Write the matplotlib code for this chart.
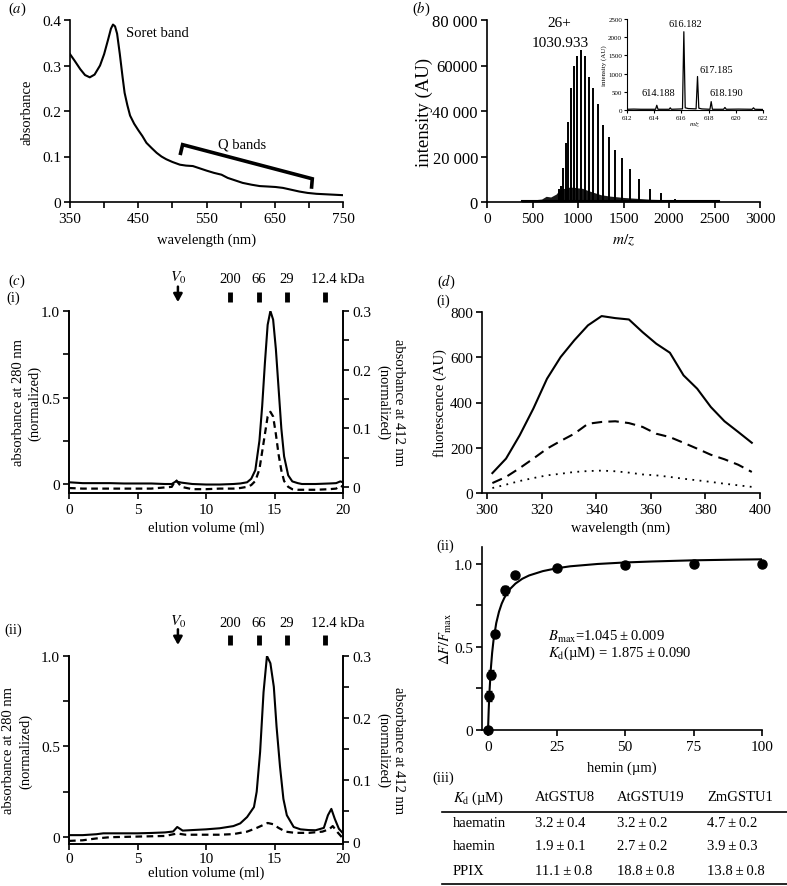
import matplotlib
matplotlib.use("Agg")
import matplotlib.pyplot as plt
from matplotlib.lines import Line2D
import matplotlib.transforms as mtransforms

# --- Data ---
# (a) UV-vis absorbance spectrum
abs_wl = [350, 357, 365, 372, 379, 386, 394, 400, 406, 410, 413, 416, 419, 423, 427,
          430, 434, 438, 444, 450, 456, 462, 470, 477, 484, 491, 500, 511, 520, 530,
          540, 550, 561, 572, 581, 591, 603, 616, 628, 640, 651, 662, 674, 686, 698,
          711, 724, 737, 750]
abs_val = [0.325, 0.310, 0.292, 0.279, 0.274, 0.280, 0.300, 0.325, 0.358, 0.381, 0.390,
           0.386, 0.370, 0.325, 0.275, 0.240, 0.213, 0.190, 0.172, 0.158, 0.145, 0.130,
           0.118, 0.108, 0.100, 0.094, 0.088, 0.082, 0.080, 0.079, 0.074, 0.069, 0.064,
           0.060, 0.053, 0.048, 0.042, 0.038, 0.035, 0.034, 0.033, 0.031, 0.027, 0.023,
           0.020, 0.018, 0.017, 0.016, 0.015]
qband_x = [512, 515, 705, 704]
qband_y = [0.107, 0.126, 0.051, 0.033]

# (b) ESI mass spectrum: charge-state peaks
ms_mz = [788.6, 812.5, 837.8, 864.8, 893.6, 924.4, 957.4, 992.8, 1030.9, 1072.1, 1116.8,
         1165.3, 1218.2, 1276.2, 1339.9, 1410.4, 1488.7, 1576.2, 1674.6, 1786.2, 1913.7,
         2060.8]
ms_int = [5500, 7000, 15000, 26000, 35000, 50000, 60000, 64000, 67000, 64000, 55000,
          50000, 43000, 34000, 28500, 23000, 19500, 14500, 10000, 5500, 4000, 1500]
# envelope of the dense minor-peak floor
floor_mz = [380, 450, 500, 600, 650, 700, 760, 800, 850, 900, 950, 1000, 1050, 1100,
            1150, 1250, 1350, 1500, 1650, 1800, 2000, 2200, 2400, 2550]
floor_int = [400, 600, 900, 1300, 2500, 2200, 3500, 5500, 6000, 6500, 6500, 6200, 6000,
             5200, 4500, 3200, 2600, 2000, 1600, 1200, 1000, 800, 700, 500]
# inset: isotope pattern
iso_mz = [612, 612.5, 613, 614.1, 614.19, 614.28, 615.1, 615.18, 615.26, 616.08, 616.18,
          616.28, 616.5, 617.08, 617.185, 617.28, 617.5, 618.1, 618.19, 618.28, 619.1,
          619.2, 619.3, 620.2, 621.2, 621.3, 621.4, 622]
iso_int = [20, 25, 20, 20, 130, 20, 20, 60, 20, 30, 2150, 60, 40, 30, 920, 50, 30, 20,
           230, 20, 20, 70, 20, 25, 20, 60, 20, 15]
iso_labels = ["614.188", "616.182", "617.185", "618.190"]
iso_label_x = [614.3, 616.26, 618.54, 619.28]
iso_label_y = [486, 2390, 1100, 486]

# (c) size exclusion chromatography
sec_void = 7.95
sec_std_vol = [11.75, 13.85, 15.9, 18.7]
sec_std_lab = ["200", "66", "29", "12.4 kDa"]

sec1_vol = [0, 1, 2, 3, 4, 5, 6, 7, 7.5, 7.8, 8.2, 9, 10, 11, 12, 12.5, 13, 13.3, 13.6,
            13.9, 14.1, 14.3, 14.5, 14.7, 14.9, 15.1, 15.3, 15.5, 15.7, 16.0, 16.3, 16.7,
            17, 18, 19, 19.5, 19.8, 20]
sec1_280 = [0.01, 0.005, 0.005, 0.005, 0.003, 0.003, 0.003, 0.0, 0.0, 0.015, 0.008, 0.0,
            -0.003, -0.003, 0.0, 0.003, 0.01, 0.03, 0.08, 0.25, 0.45, 0.7, 0.92, 1.0,
            0.95, 0.78, 0.55, 0.32, 0.16, 0.05, 0.015, 0.005, 0.0, 0.0, 0.003, 0.005,
            0.015, 0.01]
sec1_412 = [-0.002, -0.003, -0.003, -0.003, -0.003, -0.003, -0.003, -0.001, 0.0, 0.012,
            0.0, -0.004, -0.004, -0.003, -0.003, -0.002, 0.0, 0.003, 0.01, 0.03, 0.06,
            0.09, 0.12, 0.128, 0.12, 0.09, 0.055, 0.028, 0.01, 0.0, -0.004, -0.005,
            -0.005, -0.005, -0.004, -0.003, 0.002, 0.0]

sec2_vol = [0, 1, 2, 2.5, 4, 5, 6, 7, 7.6, 7.9, 8.3, 9, 10, 11, 12, 12.5, 13.0, 13.5,
            13.7, 13.95, 14.2, 14.45, 14.7, 14.95, 15.15, 15.4, 15.65, 15.9, 16.4, 16.9,
            17.5, 18, 18.6, 18.9, 19.15, 19.4, 19.7, 20]
sec2_280 = [0.01, 0.01, 0.015, 0.02, 0.02, 0.02, 0.022, 0.025, 0.03, 0.055, 0.035, 0.038,
            0.042, 0.048, 0.06, 0.075, 0.11, 0.165, 0.25, 0.47, 0.8, 1.0, 0.96, 0.83,
            0.61, 0.39, 0.21, 0.12, 0.055, 0.042, 0.038, 0.037, 0.05, 0.12, 0.155, 0.10,
            0.045, 0.02]
sec2_vol_d = [0, 1, 2, 3, 5, 7, 7.9, 8.5, 10, 11, 12, 13, 13.7, 14.2, 14.5, 14.9, 15.3,
              15.8, 16.5, 17.5, 18.5, 19.0, 19.25, 19.6, 20]
sec2_412 = [0.001, 0.002, 0.005, 0.007, 0.008, 0.009, 0.013, 0.011, 0.011, 0.011, 0.012,
            0.016, 0.022, 0.027, 0.03, 0.028, 0.022, 0.016, 0.014, 0.014, 0.016, 0.02,
            0.025, 0.015, 0.005]

# (d)(i) tryptophan fluorescence quenching
fl_wl = [302, 307, 312, 317, 322, 327, 332, 337, 342, 347, 352, 357, 362, 367, 372, 377,
         382, 387, 392, 397]
fl_solid = [88, 152, 255, 373, 505, 601, 675, 741, 782, 773, 767, 711, 660, 620, 520,
            461, 380, 317, 270, 222]
fl_dashed = [44, 71, 110, 152, 196, 230, 262, 306, 314, 317, 309, 292, 262, 247, 222,
             196, 169, 149, 125, 93]
fl_dotted = [22, 37, 53, 66, 78, 85, 93, 97, 99, 96, 90, 82, 78, 71, 63, 56, 49, 41, 34,
             27]

# (d)(ii) binding titration
hemin_conc = [0, 0.5, 1, 2.5, 6.25, 10, 25, 50, 75, 100]
hemin_resp = [0, 0.207, 0.333, 0.578, 0.839, 0.934, 0.976, 0.994, 0.996, 0.996]
hemin_err = [0, 0.03, 0.025, 0.01, 0.025, 0.01, 0.01, 0.01, 0.005, 0.005]
fit_conc = [0, 0.25, 0.5, 1, 1.5, 2, 3, 4, 5, 6, 8, 10, 12.5, 15, 20, 25, 30, 40, 50, 60,
            75, 90, 100]
fit_resp = [0, 0.123, 0.220, 0.363, 0.464, 0.539, 0.643, 0.711, 0.760, 0.796, 0.847,
            0.880, 0.909, 0.929, 0.955, 0.972, 0.984, 0.998, 1.007, 1.013, 1.020, 1.024,
            1.026]

# (d)(iii) Kd table
tbl_cols = ["AtGSTU8", "AtGSTU19", "ZmGSTU1"]
tbl_rows = ["haematin", "haemin", "PPIX"]
tbl_vals = [["3.2\u2009±\u20090.4", "3.2\u2009±\u20090.2", "4.7\u2009±\u20090.2"],
            ["1.9\u2009±\u20090.1", "2.7\u2009±\u20090.2", "3.9\u2009±\u20090.3"],
            ["11.1\u2009±\u20090.8", "18.8\u2009±\u20090.8", "13.8\u2009±\u20090.8"]]

# --- Style ---
plt.rcParams['font.family'] = ['Liberation Serif', 'DejaVu Serif']
plt.rcParams['mathtext.fontset'] = 'stix'
plt.rcParams['font.size'] = 10.5
plt.rcParams['axes.linewidth'] = 1.2
for ax_name in ['xtick', 'ytick']:
    plt.rcParams[ax_name + '.major.width'] = 1.2
    plt.rcParams[ax_name + '.minor.width'] = 1.2
    plt.rcParams[ax_name + '.major.size'] = 4
    plt.rcParams[ax_name + '.minor.size'] = 4
    plt.rcParams[ax_name + '.labelsize'] = 11
plt.rcParams['xtick.major.pad'] = 3.5
plt.rcParams['ytick.major.pad'] = 2.5

W, H = 787, 887
fig = plt.figure(figsize=(W / 100, H / 100), dpi=100)


def px_axes(l, t, r, b):
    return fig.add_axes([l / W, (H - b) / H, (r - l) / W, (b - t) / H])


def px_text(x, y, s, **kw):
    kw.setdefault('va', 'center')
    fig.text(x / W, 1 - y / H, s, **kw)


def clean(ax):
    ax.spines['top'].set_visible(False)
    ax.spines['right'].set_visible(False)


# --- (a) ---
ax_a = px_axes(70, 21, 343, 203)
clean(ax_a)
ax_a.plot(abs_wl, abs_val, color='black', lw=1.5)
ax_a.plot(qband_x, qband_y, color='black', lw=2.6, solid_joinstyle='miter')
ax_a.text(432, 0.373, "Soret band", ha='left', va='center')
ax_a.text(602, 0.128, "Q bands", ha='center', va='center')
ax_a.set_xlim(350, 750)
ax_a.set_ylim(0, 0.4)
ax_a.set_xticks([350, 450, 550, 650, 750])
ax_a.set_xticks([400, 500, 600, 700], minor=True)
ax_a.set_yticks([0, 0.1, 0.2, 0.3, 0.4])
ax_a.set_yticklabels(["0", "0.1", "0.2", "0.3", "0.4"])
ax_a.set_xlabel("wavelength (nm)")
ax_a.set_ylabel("absorbance")
ax_a.xaxis.set_label_coords(0.5, -0.165)
ax_a.yaxis.set_label_coords(-0.132, 0.5)
px_text(8, 9, "($\\mathit{a}$)", ha='left')

# --- (b) ---
ax_b = px_axes(487, 21, 760, 203)
clean(ax_b)
ax_b.fill_between(floor_mz, 0, floor_int, color='black', lw=0, alpha=0.9)
ax_b.vlines(ms_mz, 0, ms_int, color='black', lw=1.4)
ax_b.plot([floor_mz[0], floor_mz[-1]], [300, 300], color='black', lw=1.5)
ax_b.text(791, 79000, "26+", ha='center', va='center', fontsize=11)
ax_b.text(802, 70300, "1030.933", ha='center', va='center', fontsize=11)
ax_b.set_xlim(0, 3000)
ax_b.set_ylim(0, 80000)
ax_b.set_xticks([0, 500, 1000, 1500, 2000, 2500, 3000])
ax_b.set_yticks([0, 20000, 40000, 60000, 80000])
ax_b.set_yticklabels(["0", "20 000", "40 000", "60000", "80 000"])
ax_b.tick_params(axis='y', labelsize=12)
ax_b.set_xlabel("$m/z$", fontsize=11)
ax_b.set_ylabel("intensity (AU)", fontsize=13.5)
ax_b.xaxis.set_label_coords(0.5, -0.165)
ax_b.yaxis.set_label_coords(-0.198, 0.5)
px_text(412, 9, "($\\mathit{b}$)", ha='left')

ax_in = px_axes(627, 20, 763, 111)
clean(ax_in)
ax_in.plot(iso_mz, iso_int, color='black', lw=0.9)
for lab, lx, ly in zip(iso_labels, iso_label_x, iso_label_y):
    ax_in.text(lx, ly, lab, ha='center', va='center', fontsize=7.5)
ax_in.set_xlim(612, 622)
ax_in.set_ylim(0, 2500)
ax_in.set_xticks([612, 614, 616, 618, 620, 622])
ax_in.set_yticks([0, 500, 1000, 1500, 2000, 2500])
ax_in.tick_params(labelsize=5, length=2, width=0.8, pad=1.5)
for s in ['left', 'bottom']:
    ax_in.spines[s].set_linewidth(0.8)
ax_in.set_xlabel("$m/z$", fontsize=5, labelpad=0)
ax_in.set_ylabel("intensity (AU)", fontsize=5, labelpad=1)


# --- (c) ---
def sec_panel(ax, vol, a280, vol_d, a412, ylo, ylo2, lab_x):
    ax.spines['top'].set_visible(False)
    ax2 = ax.twinx()
    ax2.spines['top'].set_visible(False)
    ax.plot(vol, a280, color='black', lw=1.5)
    ax2.plot(vol_d, a412, color='black', lw=1.6, ls=(0, (3, 2)))
    ax.set_xlim(0, 20)
    ax.set_ylim(ylo, 1.0)
    ax2.set_ylim(ylo2, 0.3)
    ax.set_xticks([0, 5, 10, 15, 20])
    ax.set_yticks([0, 0.5, 1.0])
    ax.set_yticklabels(["0", "0.5", "1.0"])
    ax.set_yticks([0.25, 0.75], minor=True)
    ax2.set_yticks([0, 0.1, 0.2, 0.3])
    ax2.set_yticklabels(["0", "0.1", "0.2", "0.3"])
    ax2.set_yticks([0.05, 0.15, 0.25], minor=True)
    ax.set_xlabel("elution volume (ml)")
    ax.set_ylabel("absorbance at 280 nm\n(normalized)", linespacing=1.3)
    ax2.set_ylabel("absorbance at 412 nm\n(normalized)", rotation=270,
                   linespacing=1.3)
    ax2.yaxis.label.set_verticalalignment('bottom')
    ax.yaxis.set_label_coords(lab_x, 0.5)
    ax2.yaxis.set_label_coords(1.12, 0.5)
    return ax2


def sec_markers(ax, y_bar0, y_bar1, y_txt):
    trans = mtransforms.blended_transform_factory(ax.transData, ax.transAxes)
    ax.annotate("", xy=(sec_void, y_bar1), xytext=(sec_void, y_bar0 + 0.03),
                xycoords=trans, textcoords=trans,
                arrowprops=dict(arrowstyle='-|>,head_width=0.25,head_length=0.45',
                                color='black', lw=1.8, shrinkA=0, shrinkB=0))
    ax.text(sec_void, y_txt + 0.01, "$V_0$", transform=trans, ha='center',
            va='center', fontsize=11)
    for v, lab in zip(sec_std_vol, sec_std_lab):
        ax.plot([v, v], [y_bar0, y_bar1], transform=trans, color='black', lw=3.5,
                solid_capstyle='butt', clip_on=False)
        if "kDa" in lab:
            ax.annotate(lab, xy=(v, y_txt), xycoords=trans, xytext=(-10, 0),
                        textcoords='offset points', ha='left', va='center')
        else:
            ax.text(v, y_txt, lab, transform=trans, ha='center', va='center')


ax_c1 = px_axes(69, 312, 343, 494)
sec_panel(ax_c1, sec1_vol, sec1_280, sec1_vol, sec1_412, -0.052, -0.0105, -0.1)
ax_c1.xaxis.set_label_coords(0.5, -0.15)
sec_markers(ax_c1, 1.104, 1.049, 1.176)
px_text(8, 281, "($\\mathit{c}$)", ha='left')
px_text(6, 298, "(i)", ha='left')

ax_c2 = px_axes(69, 657, 343, 845)
sec_panel(ax_c2, sec2_vol, sec2_280, sec2_vol_d, sec2_412, -0.039, -0.004, -0.135)
ax_c2.tick_params(axis='x', pad=2)
ax_c2.xaxis.set_label_coords(0.5, -0.115)
sec_markers(ax_c2, 1.112, 1.059, 1.176)
px_text(4, 630, "(ii)", ha='left')

# --- (d)(i) ---
ax_d1 = px_axes(482, 313, 760, 494)
clean(ax_d1)
ax_d1.plot(fl_wl, fl_solid, color='black', lw=1.5)
ax_d1.plot(fl_wl, fl_dashed, color='black', lw=1.5, ls=(0, (5, 3)))
ax_d1.plot(fl_wl, fl_dotted, color='black', lw=1.3, ls=(0, (1, 3)))
ax_d1.set_xlim(298.2, 400)
ax_d1.set_ylim(0, 800)
ax_d1.set_xticks([300, 320, 340, 360, 380, 400])
ax_d1.set_yticks([0, 200, 400, 600, 800])
ax_d1.set_xlabel("wavelength (nm)")
ax_d1.set_ylabel("fluorescence (AU)")
ax_d1.xaxis.set_label_coords(0.5, -0.15)
ax_d1.yaxis.set_label_coords(-0.126, 0.5)
px_text(437, 282, "($\\mathit{d}$)", ha='left')
px_text(436, 301, "(i)", ha='left')

# --- (d)(ii) ---
ax_d2 = px_axes(482, 548, 762, 731)
clean(ax_d2)
ax_d2.plot(fit_conc, fit_resp, color='black', lw=1.5)
ax_d2.errorbar(hemin_conc, hemin_resp, yerr=hemin_err, fmt='o', color='black',
               ms=6.5, capsize=2.5, elinewidth=1.0, clip_on=False, zorder=3)
ax_d2.text(21.9, 0.566, "$B_{\\rm max}$=1.045\u2009±\u20090.009", ha='left', va='center')
ax_d2.text(21.9, 0.464, "$K_{\\rm d}$(\u00b5M) = 1.875\u2009±\u20090.090", ha='left',
           va='center')
ax_d2.set_xlim(-2.2, 100)
ax_d2.set_ylim(0, 1.1)
ax_d2.set_xticks([0, 25, 50, 75, 100])
ax_d2.set_yticks([0, 0.5, 1.0])
ax_d2.set_yticklabels(["0", "0.5", "1.0"])
ax_d2.set_yticks([0.25, 0.75], minor=True)
ax_d2.set_xlabel("hemin (\u00b5m)")
ax_d2.set_ylabel("$\\Delta F/F_{\\rm max}$")
ax_d2.xaxis.set_label_coords(0.5, -0.165)
ax_d2.yaxis.set_label_coords(-0.1, 0.5)
px_text(436, 546, "(ii)", ha='left')

# --- (d)(iii) table ---
px_text(432, 778, "(iii)", ha='left')
col_x = [453, 535, 617, 707]
row_y = [824, 847, 872]
px_text(col_x[0], 798, "$K_{\\rm d}$\u2009(\u00b5M)", ha='left')
for cx, name in zip(col_x[1:], tbl_cols):
    px_text(cx, 798, name, ha='left')
for ry, rname, vals in zip(row_y, tbl_rows, tbl_vals):
    px_text(col_x[0], ry, rname, ha='left')
    for cx, v in zip(col_x[1:], vals):
        px_text(cx, ry, v, ha='left')
for ly in [813, 885]:
    fig.add_artist(Line2D([442 / W, 787 / W], [1 - ly / H, 1 - ly / H],
                          transform=fig.transFigure, color='black', lw=1.2))

fig.savefig("out.png", dpi=100)
